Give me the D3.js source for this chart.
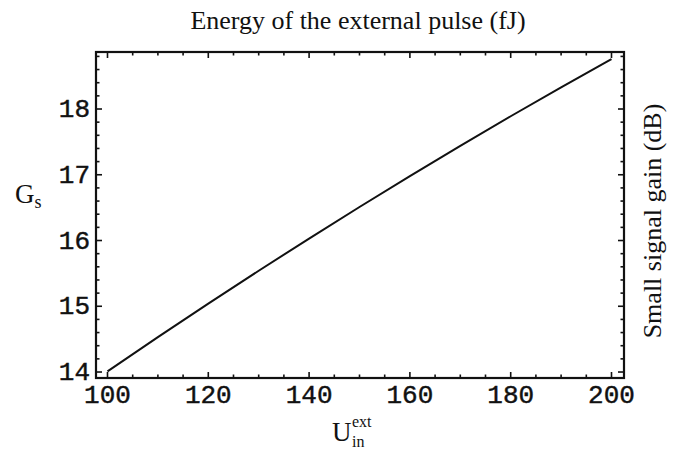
<!DOCTYPE html>
<html>
<head>
<meta charset="utf-8">
<script src="https://cdn.jsdelivr.net/npm/d3@7"></script>
<style>
  html, body { margin: 0; padding: 0; background: #fff; }
  svg { display: block; }
  .tick-label { font-family: "Liberation Mono", "DejaVu Sans Mono", monospace; font-size: 26px; fill: #111; stroke: #111; stroke-width: 0.45px; }
  .serif { font-family: "Liberation Serif", "Times New Roman", serif; fill: #111; }
</style>
</head>
<body>
<svg id="chart" width="678" height="451"></svg>
<script>
// Small signal gain versus energy of the external pulse
const energy = [100, 110, 120, 130, 140, 150, 160, 170, 180, 190, 200];
const gain   = [14.01, 14.53, 15.04, 15.54, 16.03, 16.51, 16.98, 17.44, 17.89, 18.33, 18.76];

const xMajorTicks = [100, 120, 140, 160, 180, 200];
const yMajorTicks = [14, 15, 16, 17, 18];

const svg = d3.select("#chart");
const frame = { left: 96, right: 624, top: 52, bottom: 378 };

const x = d3.scaleLinear().domain([97.72, 202.48]).range([frame.left, frame.right]);
const y = d3.scaleLinear().domain([13.909, 18.867]).range([frame.bottom, frame.top]);

const xMinor = d3.range(100, 201, 5).filter(v => v % 20 !== 0);
const yMinor = d3.range(14, 18.81, 0.2).map(v => +v.toFixed(1)).filter(v => Math.abs(v - Math.round(v)) > 1e-6);

const g = svg.append("g");

// inward ticks on all four sides
function xticks(values, len) {
  values.forEach(v => {
    const px = x(v);
    g.append("line").attr("x1", px).attr("x2", px).attr("y1", frame.bottom).attr("y2", frame.bottom - len)
      .attr("stroke", "#111").attr("stroke-width", 1.6);
    g.append("line").attr("x1", px).attr("x2", px).attr("y1", frame.top).attr("y2", frame.top + len)
      .attr("stroke", "#111").attr("stroke-width", 1.6);
  });
}
function yticks(values, len) {
  values.forEach(v => {
    const py = y(v);
    g.append("line").attr("x1", frame.left).attr("x2", frame.left + len).attr("y1", py).attr("y2", py)
      .attr("stroke", "#111").attr("stroke-width", 1.6);
    g.append("line").attr("x1", frame.right).attr("x2", frame.right - len).attr("y1", py).attr("y2", py)
      .attr("stroke", "#111").attr("stroke-width", 1.6);
  });
}
xticks(xMajorTicks, 6);
xticks(xMinor, 3.5);
yticks(yMajorTicks, 6);
yticks(yMinor, 3.5);

// frame
g.append("rect")
  .attr("x", frame.left).attr("y", frame.top)
  .attr("width", frame.right - frame.left).attr("height", frame.bottom - frame.top)
  .attr("fill", "none").attr("stroke", "#111").attr("stroke-width", 2.2);

// tick labels
g.selectAll(".xl").data(xMajorTicks).enter().append("text")
  .attr("class", "tick-label")
  .attr("x", d => x(d)).attr("y", 403)
  .attr("text-anchor", "middle")
  .text(d => d);

g.selectAll(".yl").data(yMajorTicks).enter().append("text")
  .attr("class", "tick-label")
  .attr("x", 90).attr("y", d => y(d) + 8)
  .attr("text-anchor", "end")
  .text(d => d);

// data curve
const line = d3.line().x((d, i) => x(energy[i])).y(d => y(d)).curve(d3.curveMonotoneX);
g.append("path").datum(gain)
  .attr("d", line)
  .attr("fill", "none").attr("stroke", "#111").attr("stroke-width", 2);

// titles
svg.append("text").attr("class", "serif")
  .attr("x", 358).attr("y", 29).attr("text-anchor", "middle")
  .style("font-size", "26px")
  .text("Energy of the external pulse (fJ)");

const gs = svg.append("text").attr("class", "serif").attr("x", 15).attr("y", 203).style("font-size", "27px");
gs.append("tspan").text("G");
gs.append("tspan").attr("dy", 5).style("font-size", "18px").text("s");

const ux = svg.append("text").attr("class", "serif").attr("x", 332).attr("y", 441).style("font-size", "27px");
ux.append("tspan").text("U");
ux.append("tspan").attr("x", 352).attr("y", 427).style("font-size", "16px").text("ext");
ux.append("tspan").attr("x", 352).attr("y", 447).style("font-size", "16px").text("in");

svg.append("text").attr("class", "serif")
  .attr("transform", "translate(661,221) rotate(-90)")
  .attr("text-anchor", "middle")
  .style("font-size", "26px")
  .text("Small signal gain (dB)");
</script>
</body>
</html>
